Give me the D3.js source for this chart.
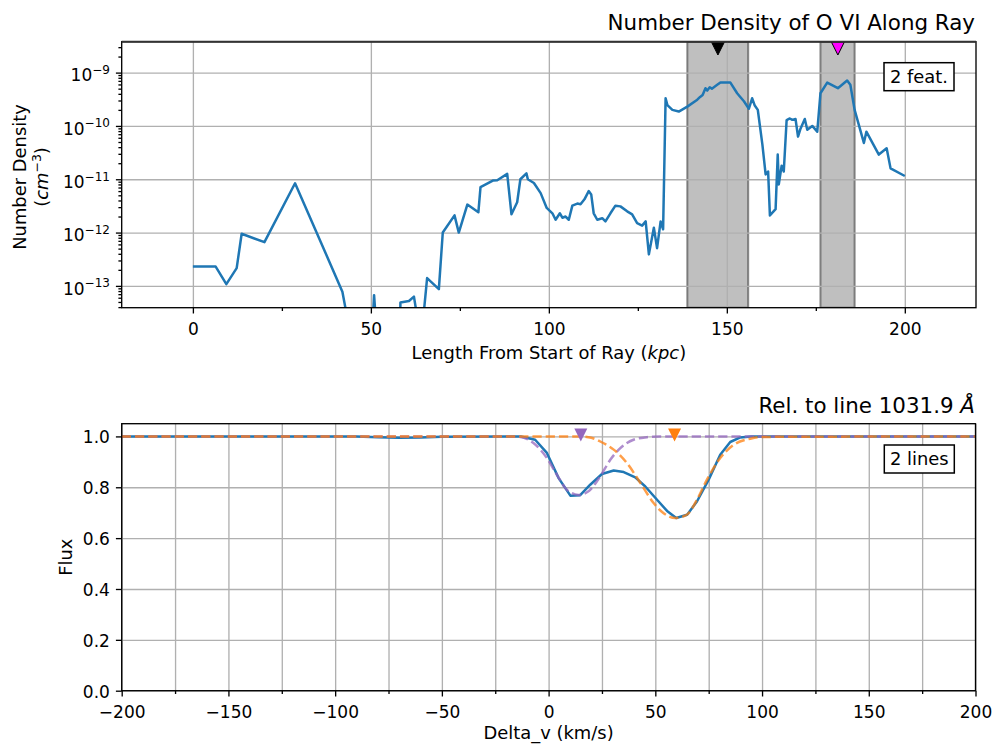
<!DOCTYPE html>
<html>
<head>
<meta charset="utf-8">
<script src="https://cdn.jsdelivr.net/npm/d3@7"></script>
<style>
  body { margin: 0; background: #fff; }
  text { font-family: "DejaVu Sans", sans-serif; }
</style>
</head>
<body>
<svg id="chart" width="993" height="744"></svg>
<script>
// ---- data ----
const kpc = [0, 6.4, 9.4, 12.3, 13.7, 20.1, 28.7, 38.7, 42.0, 44, 50.4, 50.9, 51.6, 55, 58.2, 58.3, 60.7, 62.1, 63.6, 64.4,
  65.8, 69.1, 70.2, 73.5, 74.7, 77.1, 80.2, 80.8, 84.4, 85.5, 88.3, 89.5, 91.1, 92.0, 93.7, 94.1, 95.8, 97.7, 99.4,
  101.0, 101.9, 103.1, 103.8, 104.7, 105.6, 106.6, 108.0, 108.9, 110.0, 111.2, 111.9, 112.6, 113.6, 115.0, 115.9,
  117.3, 118.7, 120.1, 122.0, 123.4, 124.8, 126.2, 127.2, 128.1, 129.5, 130.4, 131.4, 132.1, 132.8, 133.3, 134.7,
  136.5, 138.9, 141.7, 142.5, 143.2, 144.0, 144.5, 145.2, 145.8, 147.3, 148.2, 151.0, 152.9, 153.6, 154.8, 156.2,
  157.1, 157.8, 158.7, 160.0, 160.9, 161.6,
  162.1, 163.7, 164.3, 164.6, 165.4, 166.0, 166.8, 167.7, 168.4, 169.3, 170.0, 170.7, 171.9, 172.6, 174.0, 175.4,
  176.3, 178.2, 181.2, 183.8, 184.7, 185.9, 188.5, 189.2, 192.7, 194.9, 196.0, 200.0];
const numDensity = [2.3e-13, 2.3e-13, 1.08e-13, 2.15e-13, 9.5e-13, 6.6e-13, 8.4e-12, 2.5e-13, 7.8e-14, 1.5e-14,
  1.5e-14, 6.7e-14, 1.5e-14, 1.2e-14, 1.5e-14, 4.9e-14, 5.2e-14, 6.3e-14, 1.5e-14, 1.5e-14,
  1.4e-13, 8.7e-14, 1.0e-12, 2.1e-12, 1.0e-12, 3.35e-12, 2.4e-12, 7.1e-12, 9.5e-12, 9.6e-12, 1.26e-11, 2.2e-12,
  3.7e-12, 1.0e-11, 1.29e-11, 1.0e-11, 8.5e-12, 5.5e-12, 2.9e-12,
  2.3e-12, 1.74e-12, 2.3e-12, 1.9e-12, 2.0e-12, 1.74e-12, 3.2e-12, 3.5e-12, 3.4e-12, 4.2e-12, 6.0e-12, 5.2e-12,
  2.3e-12, 1.74e-12, 1.86e-12, 1.62e-12,
  2.3e-12, 3.2e-12, 3.1e-12, 2.5e-12, 2.2e-12, 1.5e-12, 1.35e-12, 1.62e-12, 3.9e-13, 1.23e-12, 5.1e-13, 1.62e-12,
  1.15e-12, 3.3e-10, 2.45e-10, 2.0e-10,
  1.86e-10, 2.3e-10, 3.1e-10, 3.5e-10, 3.8e-10, 5.1e-10, 4.6e-10, 5.3e-10, 5.0e-10, 5.9e-10, 6.5e-10, 6.5e-10,
  4.1e-10, 3.6e-10, 2.9e-10, 2.1e-10,
  3.3e-10, 2.45e-10, 2.0e-10, 4.4e-11, 1.23e-11, 1.4e-11,
  2.1e-12, 2.75e-12, 2.9e-11, 8e-12, 1.8e-11, 1.4e-11, 1.29e-10, 1.38e-10, 1.3e-10, 1.35e-10, 6.3e-11, 8.9e-11,
  1.35e-10, 8.5e-11, 1.0e-10, 7.8e-11,
  4.1e-10, 6.5e-10, 5.1e-10, 7.1e-10, 5.9e-10, 2.0e-10, 4.8e-11, 7.8e-11, 2.9e-11, 3.8e-11, 1.6e-11, 1.15e-11];

const featureSpans = [[138.9, 156.0], [176.3, 185.9]];
const featureCenters = [147.5, 181.2];

const velocity = [-200, -90, -80, -70, -60, -50, -20, -13, -6.3, -0.8, 4.7, 10.2, 14.8, 19.5, 25, 30.5, 35.2, 40.6,
  45.3, 50.8, 55.5, 59.8, 64.9, 69.5, 75, 80.4, 85.1, 89.8, 95, 200];
const flux = [1, 1, 0.997, 0.995, 0.996, 0.999, 1, 1, 0.987, 0.935, 0.836, 0.767, 0.769, 0.810, 0.852, 0.866, 0.860,
  0.839, 0.803, 0.751, 0.707, 0.679, 0.692, 0.744, 0.830, 0.928, 0.978, 0.996, 1.0, 1.0];

const velLine1 = [-200, -20, -13.3, -7.1, -0.8, 3.9, 8.6, 14, 18.7, 24.2, 28.9, 33.6, 39.8, 46.1, 52, 200];
const fluxLine1 = [1, 1, 0.998, 0.974, 0.915, 0.849, 0.790, 0.770, 0.784, 0.843, 0.908, 0.954, 0.987, 0.997, 1, 1];
const velLine2 = [-200, 15, 20, 24.2, 30.5, 36.7, 43, 49.2, 53.9, 59.4, 64.9, 69.5, 74.2, 80.4, 86.7, 94.5, 100, 200];
const fluxLine2 = [1, 1, 0.995, 0.980, 0.948, 0.895, 0.817, 0.738, 0.698, 0.679, 0.693, 0.751, 0.830, 0.915, 0.967,
  0.991, 0.998, 1];
const lineCenters = [15.1, 59.0];

const topXTicks = [0, 50, 100, 150, 200];
const topXMinor = [25, 75, 125, 175];
const topYTicks = [1e-13, 1e-12, 1e-11, 1e-10, 1e-9];
const botXTicks = [-200, -150, -100, -50, 0, 50, 100, 150, 200];
const botXMinor = [-175, -125, -75, -25, 25, 75, 125, 175];
const botYTicks = [0, 0.2, 0.4, 0.6, 0.8, 1.0];

// ---- layout ----
const svg = d3.select("#chart");
const FS = 17;       // tick labels
const FL = 17.9;     // axis labels, boxes
const FT = 21.4;     // titles
const gridColor = "#b0b0b0";

const xTop = d3.scaleLinear([-20, 220], [121.7, 976]);
const yTop = d3.scaleLog([3.9e-14, 3.8e-9], [307.7, 41.7]);
const xBot = d3.scaleLinear([-200, 200], [121.7, 975.5]);
const yBot = d3.scaleLinear([0, 1.05], [690.7, 423.7]);

const defs = svg.append("defs");
function clip(id, x, y) {
  defs.append("clipPath").attr("id", id).append("rect")
    .attr("x", x.range()[0]).attr("y", y.range()[1])
    .attr("width", x.range()[1] - x.range()[0]).attr("height", y.range()[0] - y.range()[1]);
}
clip("clipTop", xTop, yTop);
clip("clipBot", xBot, yBot);

function grid(x, y, xv, yv) {
  const h = y.range()[0] - y.range()[1], w = x.range()[1] - x.range()[0];
  const gx = svg.append("g").attr("transform", `translate(0,${y.range()[0]})`)
    .call(d3.axisBottom(x).tickValues(xv).tickSize(-h).tickFormat(""));
  const gy = svg.append("g").attr("transform", `translate(${x.range()[0]},0)`)
    .call(d3.axisLeft(y).tickValues(yv).tickSize(-w).tickFormat(""));
  [gx, gy].forEach(g => {
    g.select(".domain").remove();
    g.selectAll("line").attr("stroke", gridColor).attr("stroke-width", 1.33);
  });
}

function frame(x, y) {
  svg.append("rect")
    .attr("x", x.range()[0]).attr("y", y.range()[1])
    .attr("width", x.range()[1] - x.range()[0]).attr("height", y.range()[0] - y.range()[1])
    .attr("fill", "none").attr("stroke", "#000").attr("stroke-width", 1.33);
}

function styleAxis(g) {
  g.select(".domain").remove();
  g.attr("font-family", '"DejaVu Sans", sans-serif').attr("font-size", FS);
  g.selectAll("line").attr("stroke", "#000").attr("stroke-width", 1.33);
  g.selectAll("text").attr("fill", "#000");
}

// ================= TOP PANEL =================
svg.append("g").attr("clip-path", "url(#clipTop)")
  .selectAll("rect").data(featureSpans).join("rect")
  .attr("x", d => xTop(d[0])).attr("width", d => xTop(d[1]) - xTop(d[0]))
  .attr("y", yTop.range()[1]).attr("height", yTop.range()[0] - yTop.range()[1])
  .attr("fill", "#808080").attr("fill-opacity", 0.5)
  .attr("stroke", "#404040").attr("stroke-opacity", 0.6).attr("stroke-width", 2);

grid(xTop, yTop, topXTicks, topYTicks);

svg.append("path")
  .datum(kpc.map((k, i) => [k, numDensity[i]]))
  .attr("clip-path", "url(#clipTop)")
  .attr("fill", "none").attr("stroke", "#1f77b4").attr("stroke-width", 2.5)
  .attr("stroke-linejoin", "round")
  .attr("d", d3.line().x(d => xTop(d[0])).y(d => yTop(d[1])));

const featColors = ["#000000", "#ff00ff"];
svg.append("g").attr("clip-path", "url(#clipTop)")
  .selectAll("path").data(featureCenters).join("path")
  .attr("d", d => {
    const cx = xTop(d), cy = yTop.range()[1] + 6.8;
    return `M${cx - 6.5},${cy - 6.5}L${cx + 6.5},${cy - 6.5}L${cx},${cy + 6.5}Z`;
  })
  .attr("fill", (d, i) => featColors[i]).attr("stroke", "#000").attr("stroke-width", 1);

svg.append("g").attr("transform", `translate(0,${yTop.range()[0]})`)
  .call(d3.axisBottom(xTop).tickValues(topXTicks).tickSize(5.8).tickPadding(9.2).tickFormat(d3.format("d")))
  .call(styleAxis);
svg.append("g").attr("transform", `translate(0,${yTop.range()[0]})`)
  .call(d3.axisBottom(xTop).tickValues(topXMinor).tickSize(3.3).tickFormat(""))
  .call(styleAxis);

const logMinor = [];
for (let e = -14; e <= -9; e++) for (let m = 2; m <= 9; m++) {
  const v = m * Math.pow(10, e);
  if (v >= yTop.domain()[0] && v <= yTop.domain()[1]) logMinor.push(v);
}
svg.append("g").attr("transform", `translate(${xTop.range()[0]},0)`)
  .call(d3.axisLeft(yTop).tickValues(logMinor).tickSize(3.3).tickFormat(""))
  .call(styleAxis);
const gyTop = svg.append("g").attr("transform", `translate(${xTop.range()[0]},0)`)
  .call(d3.axisLeft(yTop).tickValues(topYTicks).tickSize(5.8).tickPadding(6).tickFormat(""))
  .call(styleAxis);
gyTop.selectAll(".tick text").each(function(d) {
  const t = d3.select(this).attr("dy", null).attr("y", 8.3);
  t.text(null);
  t.append("tspan").text("10");
  t.append("tspan").attr("font-size", 12).attr("dy", -7.5)
    .text("\u2212" + Math.abs(Math.round(Math.log10(d))));
});

frame(xTop, yTop);
svg.append("line")
  .attr("x1", xTop.range()[0]).attr("x2", xTop.range()[1])
  .attr("y1", yTop.range()[1]).attr("y2", yTop.range()[1])
  .attr("stroke", "#333").attr("stroke-width", 2);

function infoBox(x, y, label) {
  const g = svg.append("g");
  g.append("rect").attr("x", x).attr("y", y).attr("width", 70).attr("height", 28)
    .attr("fill", "#fff").attr("stroke", "#000").attr("stroke-width", 1.5);
  g.append("text").attr("x", x + 35).attr("y", y + 20.3).attr("text-anchor", "middle")
    .attr("font-size", FL).text(label);
}
infoBox(884, 62.7, "2 feat.");

svg.append("text").attr("x", 975).attr("y", 29.5).attr("text-anchor", "end")
  .attr("font-size", FT).text("Number Density of O VI Along Ray");

const xl = svg.append("text").attr("x", (xTop.range()[0] + xTop.range()[1]) / 2).attr("y", 359)
  .attr("text-anchor", "middle").attr("font-size", FL);
xl.append("tspan").text("Length From Start of Ray (");
xl.append("tspan").attr("font-style", "italic").text("kpc");
xl.append("tspan").text(")");

const yl = svg.append("g").attr("transform", "translate(0,177) rotate(-90)");
yl.append("text").attr("x", 0).attr("y", 26).attr("text-anchor", "middle").attr("font-size", FL)
  .text("Number Density");
const yl2 = yl.append("text").attr("x", 0).attr("y", 48).attr("text-anchor", "middle").attr("font-size", FL);
yl2.append("tspan").text("(");
yl2.append("tspan").attr("font-style", "italic").text("cm");
yl2.append("tspan").attr("font-size", 12.5).attr("dy", -7).text("\u22123");
yl2.append("tspan").attr("dy", 7).text(")");

// ================= BOTTOM PANEL =================
grid(xBot, yBot, botXTicks.concat(botXMinor), botYTicks);

const lineGen = d3.line().x(d => xBot(d[0])).y(d => yBot(d[1]));
const smoothGen = d3.line().x(d => xBot(d[0])).y(d => yBot(d[1])).curve(d3.curveMonotoneX);
const gb = svg.append("g").attr("clip-path", "url(#clipBot)");
gb.append("path").datum(velocity.map((v, i) => [v, flux[i]]))
  .attr("fill", "none").attr("stroke", "#1f77b4").attr("stroke-width", 2.5)
  .attr("stroke-linejoin", "round").attr("d", lineGen);
gb.append("path").datum(velLine1.map((v, i) => [v, fluxLine1[i]]))
  .attr("fill", "none").attr("stroke", "#9467bd").attr("stroke-opacity", 0.75).attr("stroke-width", 2.5)
  .attr("stroke-dasharray", "9.25,4").attr("d", smoothGen);
gb.append("path").datum(velLine2.map((v, i) => [v, fluxLine2[i]]))
  .attr("fill", "none").attr("stroke", "#ff7f0e").attr("stroke-opacity", 0.75).attr("stroke-width", 2.5)
  .attr("stroke-dasharray", "9.25,4").attr("d", smoothGen);

const lineColors = ["#9467bd", "#ff7f0e"];
svg.append("g").selectAll("path").data(lineCenters).join("path")
  .attr("d", d => {
    const cx = xBot(d), cy = yBot(1) - 1.5;
    return `M${cx - 6.5},${cy - 6.5}L${cx + 6.5},${cy - 6.5}L${cx},${cy + 6.5}Z`;
  })
  .attr("fill", (d, i) => lineColors[i]);

svg.append("g").attr("transform", `translate(0,${yBot.range()[0]})`)
  .call(d3.axisBottom(xBot).tickValues(botXTicks).tickSize(5.8).tickPadding(9.2))
  .call(styleAxis);
svg.append("g").attr("transform", `translate(0,${yBot.range()[0]})`)
  .call(d3.axisBottom(xBot).tickValues(botXMinor).tickSize(3.3).tickFormat(""))
  .call(styleAxis);
const gyBot = svg.append("g").attr("transform", `translate(${xBot.range()[0]},0)`)
  .call(d3.axisLeft(yBot).tickValues(botYTicks).tickSize(5.8).tickPadding(6).tickFormat(d3.format(".1f")))
  .call(styleAxis);
gyBot.selectAll(".tick text").attr("dy", "0.38em");

frame(xBot, yBot);
infoBox(884.3, 445, "2 lines");

const t2 = svg.append("text").attr("x", 975).attr("y", 412.5).attr("text-anchor", "end").attr("font-size", FT);
t2.append("tspan").text("Rel. to line 1031.9 ");
t2.append("tspan").attr("font-style", "italic").text("\u00c5");

svg.append("text").attr("x", (xBot.range()[0] + xBot.range()[1]) / 2).attr("y", 739)
  .attr("text-anchor", "middle").attr("font-size", FL).text("Delta_v (km/s)");
svg.append("text").attr("transform", `translate(71.5,${(yBot.range()[0] + yBot.range()[1]) / 2}) rotate(-90)`)
  .attr("text-anchor", "middle").attr("font-size", FL).text("Flux");
</script>
</body>
</html>
